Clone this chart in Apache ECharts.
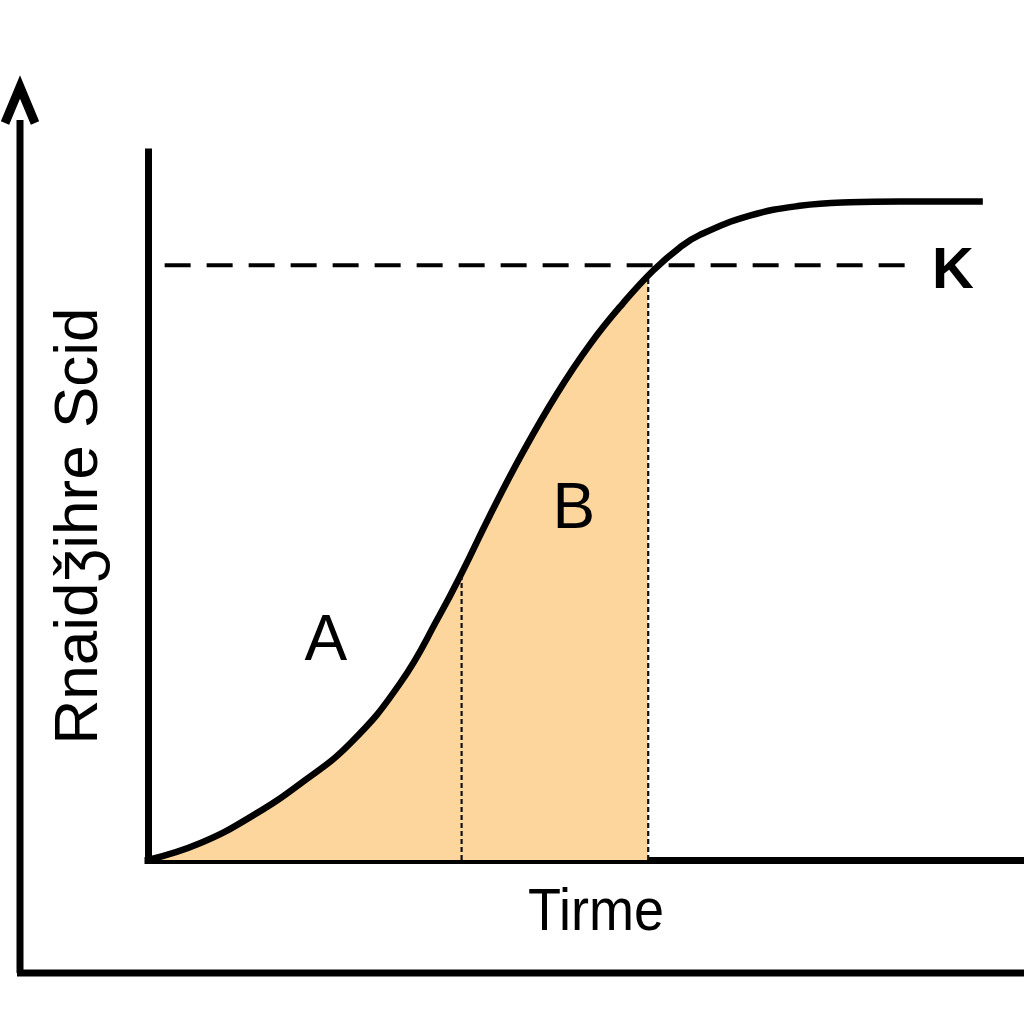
<!DOCTYPE html>
<html>
<head>
<meta charset="utf-8">
<script src="https://cdn.jsdelivr.net/npm/echarts@6/dist/echarts.min.js"></script>
<style>
  html, body { margin: 0; padding: 0; background: #fff; }
  #chart { width: 1024px; height: 1024px; }
</style>
</head>
<body>
<div id="chart"></div>
<script>
// curve (time 0..100, size 0..100)
const timeVals = [0, 6, 12, 17.4, 23.1, 28.8, 33.3, 36.0, 39.0, 42.8, 46.7, 50.5, 54.2, 57.7, 60.7, 63.0, 68.7, 74.4, 80.1, 85.8, 95.3]
const sizeVals = [0, 2.4, 6.3, 10.8, 16.5, 25.0, 34.6, 41.0, 48.6, 57.6, 65.9, 72.9, 78.6, 83.3, 86.5, 88.3, 91.0, 92.4, 92.9, 93.0, 93.0]

// dotted dividers between A and B
const dividerX = [35.8, 57.1]
const dividerTop = [40.5, 82.6]
const fillEnd = 57.1

// carrying capacity line
const kLevel = 84
const kStart = 1.9
const kEnd = 86.5

// labels
const labelNames = ['A', 'B']
const labelX = [20.3, 48.6]
const labelY = [30.8, 49.4]

const curveData = timeVals.map((t, i) => [t, sizeVals[i]])

const chart = echarts.init(document.getElementById('chart'))

const axisBase = {
  type: 'value',
  min: 0,
  max: 100,
  axisLine: { show: true, lineStyle: { color: '#000', width: 7, cap: 'square' } },
  axisTick: { show: false },
  axisLabel: { show: false },
  splitLine: { show: false }
}

const series = [
  // filled area under the curve (only up to fillEnd)
  {
    type: 'line',
    data: curveData,
    smooth: 0.45,
    symbol: 'none',
    lineStyle: { width: 0 },
    areaStyle: { opacity: 1 },
    z: 1,
    silent: true
  },
  // the growth curve
  {
    type: 'line',
    data: curveData,
    smooth: 0.45,
    symbol: 'none',
    lineStyle: { color: '#000', width: 6.5 },
    z: 5
  },
  // K dashed line
  {
    type: 'line',
    data: [[kStart, kLevel], [kEnd, kLevel]],
    symbol: 'none',
    lineStyle: { color: '#000', width: 4, type: [26, 16] },
    z: 4
  },
  // K label
  {
    type: 'scatter',
    data: [[91.9, 83.1]],
    symbolSize: 0,
    itemStyle: { opacity: 1 },
    label: {
      show: true,
      position: 'inside',
      formatter: 'K',
      fontFamily: 'Liberation Sans',
      fontWeight: 'bold',
      fontSize: 58,
      color: '#000',
      opacity: 1
    },
    z: 6
  },
  // A / B labels
  {
    type: 'scatter',
    data: labelNames.map((n, i) => ({ name: n, value: [labelX[i], labelY[i]] })),
    symbolSize: 0,
    itemStyle: { opacity: 1 },
    label: {
      show: true,
      position: 'inside',
      formatter: '{b}',
      fontFamily: 'Liberation Sans',
      fontSize: 64,
      color: '#000',
      opacity: 1
    },
    z: 6
  }
]

// dotted vertical dividers
dividerX.forEach((x, i) => {
  series.push({
    type: 'line',
    data: [[x, 0], [x, dividerTop[i]]],
    symbol: 'none',
    lineStyle: { color: '#111', width: 2.2, type: [5, 3] },
    z: 3
  })
})

const option = {
  backgroundColor: '#fff',
  animation: false,
  grid: { left: 148, right: 0, top: 152, bottom: 164 },
  xAxis: axisBase,
  yAxis: axisBase,
  visualMap: {
    show: false,
    type: 'piecewise',
    seriesIndex: 0,
    dimension: 0,
    pieces: [{ min: 0, max: fillEnd, color: '#fdd69d' }],
    outOfRange: { color: 'rgba(253,214,157,0)' }
  },
  graphic: [
    // outer frame with arrow
    { type: 'line', shape: { x1: 20, y1: 120, x2: 20, y2: 973 }, style: { stroke: '#000', lineWidth: 7 } },
    { type: 'line', shape: { x1: 17, y1: 973, x2: 1024, y2: 973 }, style: { stroke: '#000', lineWidth: 7 } },
    { type: 'polyline', shape: { points: [[5, 123], [20, 87], [35, 123]] }, style: { stroke: '#000', lineWidth: 9, fill: 'none', lineJoin: 'miter' } },
    // axis titles
    {
      type: 'text',
      x: 596, y: 913,
      scaleX: 0.9,
      style: { text: 'Tirme', font: '60px "Liberation Sans"', fill: '#000', align: 'center', verticalAlign: 'middle' }
    },
    {
      type: 'text',
      x: 80, y: 526,
      rotation: Math.PI / 2,
      style: { text: 'Rnaidǯihre Scid', font: '62px "Liberation Sans"', fill: '#000', align: 'center', verticalAlign: 'middle' }
    }
  ],
  series: series
}

chart.setOption(option)
</script>
</body>
</html>
